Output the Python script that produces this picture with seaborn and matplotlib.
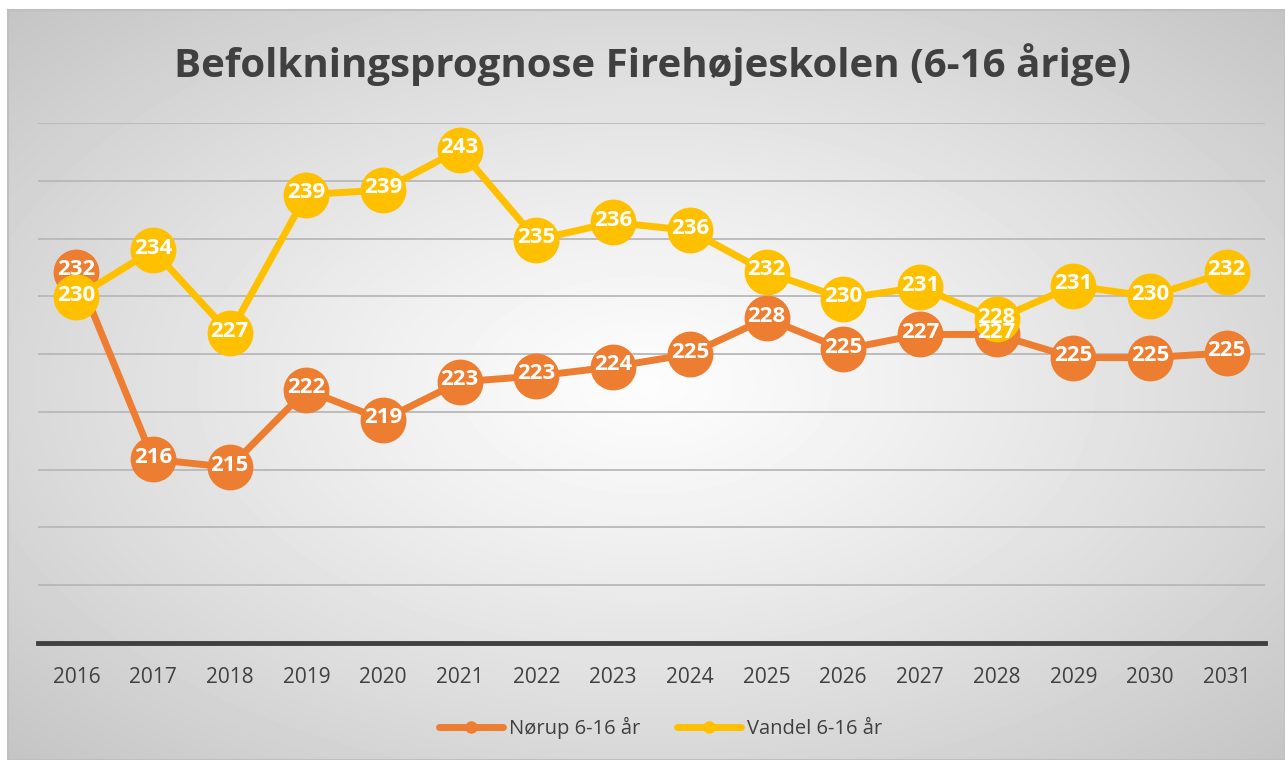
import numpy as np
import pandas as pd
import matplotlib
matplotlib.use("Agg")
import matplotlib.pyplot as plt
from matplotlib.lines import Line2D
import seaborn as sns

years = ["2016", "2017", "2018", "2019", "2020", "2021", "2022", "2023",
         "2024", "2025", "2026", "2027", "2028", "2029", "2030", "2031"]
norup = [232.1, 215.9, 215.2, 221.9, 219.3, 222.6, 223.1, 223.9,
         225.0, 228.1, 225.4, 226.7, 226.7, 224.7, 224.7, 225.1]
vandel = [229.9, 234.0, 226.8, 238.8, 239.2, 242.7, 234.9, 236.4,
          235.7, 232.1, 229.8, 230.8, 228.0, 230.9, 230.0, 232.1]
series_names = ["Nørup 6-16 år", "Vandel 6-16 år"]
colors = ["#ED7D31", "#FFC000"]
title = "Befolkningsprognose Firehøjeskolen (6-16 årige)"

sns.set_theme(style="white")
plt.rcParams["font.family"] = ["Open Sans", "DejaVu Sans"]

W, H = 1285, 760
fig = plt.figure(figsize=(W / 100, H / 100), dpi=100)
fig.patch.set_facecolor("white")

# background with radial gradient
bg = fig.add_axes([8 / W, 0, 1 - 8 / W, 1 - 10 / H])
bg.set_zorder(-10)
nx, ny = 400, 240
xx, yy = np.meshgrid(np.linspace(-1, 1, nx), np.linspace(-1, 1, ny))
r = np.sqrt(xx ** 2 + yy ** 2) / np.sqrt(2)
val = 0.99 - 0.22 * np.clip(r, 0, 1) ** 1.2
bg.imshow(val, cmap="gray", vmin=0, vmax=1, aspect="auto", extent=[0, 1, 0, 1],
          interpolation="bicubic")
bg.set_xlim(0, 1)
bg.set_ylim(0, 1)
bg.set_xticks([])
bg.set_yticks([])
for s in bg.spines.values():
    s.set_color("#bfbfbf")
    s.set_linewidth(1.5)

ax = fig.add_axes([38 / W, 1 - 643 / H, (1265 - 38) / W, (643 - 123) / H])
ax.patch.set_alpha(0)

n = len(years)
df = pd.DataFrame({
    "x": list(range(n)) * 2,
    "value": norup + vandel,
    "series": [series_names[0]] * n + [series_names[1]] * n,
})

sns.lineplot(data=df, x="x", y="value", hue="series", palette=colors,
             marker="o", markersize=33, markeredgewidth=0, linewidth=5,
             legend=False, ax=ax, zorder=3)

for vals in (norup, vandel):
    for i, v in enumerate(vals):
        ax.annotate(f"{v:.0f}", (i, v), xytext=(0, 1.5), textcoords="offset points",
                    ha="center", va="center", color="white",
                    fontsize=16, fontweight="bold", zorder=5)

ax.set_xlim(-0.5, n - 0.5)
ax.set_ylim(200, 245)
ax.set_yticks(np.arange(205, 246, 5))
ax.yaxis.grid(True, color="#b8b8b8", linewidth=1.3)
ax.set_axisbelow(True)
ax.tick_params(axis="y", left=False, labelleft=False)
ax.set_xticks(range(n))
ax.set_xticklabels(years, fontsize=15, color="#404040")
ax.tick_params(axis="x", length=0, pad=17)
ax.set_xlabel("")
ax.set_ylabel("")
for k in ["top", "right", "left"]:
    ax.spines[k].set_visible(False)
ax.spines["bottom"].set_color("#404040")
ax.spines["bottom"].set_linewidth(3.5)

fig.text(0.508, 1 - 65 / H, title, ha="center", va="center", fontsize=29,
         fontweight="bold", color="#404040")

handles = [Line2D([0], [0], color=c, linewidth=5, marker="o", markersize=9,
                  markeredgewidth=0) for c in colors]
fig.legend(handles, series_names, loc="center", bbox_to_anchor=(0.514, 1 - 728 / H),
           ncol=2, frameon=False, fontsize=14.5, labelcolor="#404040",
           handlelength=3.2, columnspacing=1.8, handletextpad=0.3)

fig.savefig("out.png", dpi=100)
